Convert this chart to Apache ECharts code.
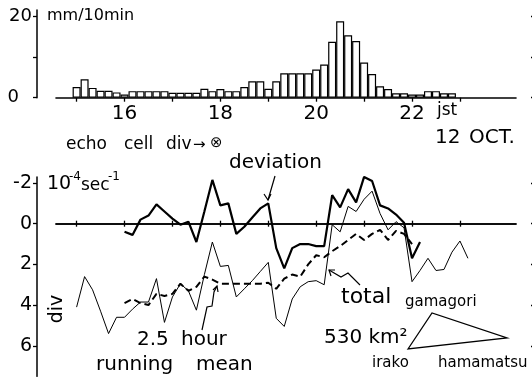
<!DOCTYPE html>
<html><head><meta charset="utf-8">
<script src="https://cdn.jsdelivr.net/npm/echarts@6/dist/echarts.min.js"></script>
<style>html,body{margin:0;padding:0;background:#fff}#c{width:532px;height:377px}</style>
</head><body><div id="c"></div>
<script>
// 10-minute time steps (JST, 12 Oct.)
const times = ["15:00","15:10","15:20","15:30","15:40","15:50","16:00","16:10","16:20","16:30","16:40","16:50",
"17:00","17:10","17:20","17:30","17:40","17:50","18:00","18:10","18:20","18:30","18:40","18:50",
"19:00","19:10","19:20","19:30","19:40","19:50","20:00","20:10","20:20","20:30","20:40","20:50",
"21:00","21:10","21:20","21:30","21:40","21:50","22:00","22:10","22:20","22:30","22:40","22:50","23:00","23:10"];
// rainfall mm/10min
const rainfall = [2.6,4.5,2.4,1.7,1.7,1.3,0.8,1.6,1.6,1.6,1.6,1.6,
1.2,1.2,1.2,1.2,2.2,1.6,2.1,1.6,1.6,2.6,4.0,4.0,
2.2,4.0,6.0,6.0,6.0,6.0,6.9,8.1,13.7,18.7,15.3,13.9,
8.6,5.8,2.8,2.1,1.1,1.1,0.8,0.8,1.6,1.6,1.1,1.1];
// echo cell divergence, 10^-4 sec^-1 (axis inverted)
const totalDiv = [4.1,2.6,3.25,4.3,5.4,4.6,4.6,4.2,3.85,3.85,2.7,4.85,
3.6,2.95,3.3,4.25,2.5,0.9,2.1,2.05,3.6,3.2,2.8,2.35,
1.9,4.65,5.05,3.7,3.1,2.85,2.8,3.0,0.05,0.4,-0.85,-0.6,
-1.2,-1.6,-0.5,0.3,-0.1,0.2,2.85,2.3,1.7,2.3,2.25,1.4,0.85,1.7];
const deviation = [null,null,null,null,null,null,0.4,0.55,-0.2,-0.4,-0.95,-0.6,
-0.25,0.05,-0.1,0.9,-0.6,-2.15,-0.9,-1.0,0.5,0.15,-0.3,-0.75,
-1.0,1.2,2.2,1.2,1.0,1.0,1.1,1.1,-1.4,-0.8,-1.7,-1.05,
-2.3,-2.1,-0.9,-0.75,-0.45,-0.05,1.7,0.9,null,null,null,null,null,null];
const runningMean = [null,null,null,null,null,null,3.9,3.7,3.9,4.0,3.45,3.55,
3.45,2.95,3.3,3.1,2.6,2.75,2.95,2.95,2.95,2.95,2.95,2.95,
2.9,3.2,2.7,2.5,2.6,2.0,1.55,1.65,1.35,1.1,0.8,0.5,
0.8,0.5,0.3,0.8,0.35,0.5,1.0,null,null,null,null,null,null,null];
const hourTicks = [15,16,17,18,19,20,21,22,23];
const hourLabels = [16,18,20,22];
const rainTicks = [0,10,20];
const rainLabels = [0,20];
const divTicks = [-2,0,2,4,6];

const toH = s => { const p = s.split(':'); return +p[0] + (+p[1]) / 60; };
const pairs = arr => arr.map((v, i) => [toH(times[i]), v]);

const FONT = '"DejaVu Sans", sans-serif';
const K = '#000';
const X_MIN = 14.57, X_MAX = 24.17;

function txt(text, x, y, size, extra) {
  return Object.assign({ type: 'text', z: 100, style: { text, x, y, fill: K,
    font: size + 'px ' + FONT, textVerticalAlign: 'middle', textAlign: 'left' } }, extra || {});
}
function pl(points, w) {
  return { type: 'polyline', z: 100, shape: { points }, style: { stroke: K, lineWidth: w || 1.2, fill: null } };
}

const chart = echarts.init(document.getElementById('c'), null, { renderer: 'canvas' });
const baseX = {
  type: 'value', min: X_MIN, max: X_MAX, splitLine: { show: false },
  axisLine: { show: true, lineStyle: { color: K, width: 1.5 } }
};
const option = {
  animation: false,
  backgroundColor: '#fff',
  grid: [
    { left: 56, right: 16, top: 9.9, height: 87.8 },
    { left: 56, right: 16, top: 176.9, height: 199.4 }
  ],
  xAxis: [
    Object.assign({}, baseX, { gridIndex: 0,
      axisLine: { show: true, onZero: false, lineStyle: { color: K, width: 1.6 } },
      axisTick: { show: true, length: 4, customValues: hourTicks, lineStyle: { color: K, width: 1.3 } },
      axisLabel: { show: true, customValues: hourLabels, color: K, fontSize: 20, fontFamily: FONT, margin: 6 } }),
    Object.assign({}, baseX, { gridIndex: 1, position: 'bottom',
      axisLine: { show: true, onZero: true, lineStyle: { color: K, width: 1.5 } },
      axisTick: { show: true, length: 3, customValues: hourTicks, lineStyle: { color: K, width: 1.3 } },
      axisLabel: { show: false } }),
    Object.assign({}, baseX, { gridIndex: 1, position: 'top',
      axisLine: { show: true, onZero: true, lineStyle: { color: K, width: 1.5 } },
      axisTick: { show: true, length: 3, customValues: hourTicks, lineStyle: { color: K, width: 1.3 } },
      axisLabel: { show: false } })
  ],
  yAxis: [
    { type: 'value', gridIndex: 0, min: 0, max: 21.5, offset: 19, splitLine: { show: false },
      axisLine: { show: true, onZero: false, lineStyle: { color: K, width: 1.5 } },
      axisTick: { show: true, length: 4, customValues: rainTicks, lineStyle: { color: K, width: 1.3 } },
      axisLabel: { show: true, customValues: rainLabels, color: K, fontSize: 18, fontFamily: FONT, margin: 5,
        formatter: v => v === 0 ? '{z|0}' : String(v),
        rich: { z: { fontSize: 18, fontFamily: FONT, color: K, padding: [0, 13, 0, 0] } } } },
    { type: 'value', gridIndex: 0, min: 0, max: 21.5, offset: 19, splitLine: { show: false },
      axisLine: { show: false, onZero: false },
      axisTick: { show: true, inside: true, length: 4, customValues: rainTicks, lineStyle: { color: K, width: 1.3 } },
      axisLabel: { show: false } },
    { type: 'value', gridIndex: 1, min: -2.3, max: 7.5, inverse: true, offset: 19, splitLine: { show: false },
      axisLine: { show: true, onZero: false, lineStyle: { color: K, width: 1.5 } },
      axisTick: { show: true, length: 4, customValues: divTicks, lineStyle: { color: K, width: 1.3 } },
      axisLabel: { show: true, customValues: divTicks, color: K, fontSize: 19, fontFamily: FONT, margin: 5 } },
    { type: 'value', gridIndex: 1, min: -2.3, max: 7.5, inverse: true, offset: 19, splitLine: { show: false },
      axisLine: { show: false, onZero: false },
      axisTick: { show: true, inside: true, length: 4, customValues: divTicks, lineStyle: { color: K, width: 1.3 } },
      axisLabel: { show: false } }
  ],
  series: [
    { type: 'bar', xAxisIndex: 0, yAxisIndex: 0, data: pairs(rainfall), barWidth: 8,
      itemStyle: { color: '#fff', borderColor: K, borderWidth: 1.2 } },
    { type: 'line', xAxisIndex: 1, yAxisIndex: 2, data: pairs(totalDiv), showSymbol: false,
      lineStyle: { color: K, width: 1 } },
    { type: 'line', xAxisIndex: 1, yAxisIndex: 2, data: pairs(runningMean), showSymbol: false,
      lineStyle: { color: K, width: 2, type: [7, 4] } },
    { type: 'line', xAxisIndex: 1, yAxisIndex: 2, data: pairs(deviation), showSymbol: false,
      lineStyle: { color: K, width: 2.2 } }
  ],
  graphic: [
    txt('mm/10min', 47, 16, 16),
    txt('jst', 437, 111, 17),
    txt('echo', 66, 145, 17),
    txt('cell', 124, 145, 17),
    txt('div', 166, 145, 17),
    txt('\u2192', 193, 145, 15),
    txt('\u2297', 210, 143, 15),
    txt('12', 435, 138, 20),
    txt('OCT.', 469, 138, 20),
    txt('deviation', 229, 163, 20),
    txt('10', 47, 184, 19),
    txt('-4', 69, 177, 12),
    txt('sec', 81, 186, 17),
    txt('-1', 108, 177, 12),
    { type: 'text', z: 100, x: 57, y: 309, rotation: Math.PI / 2,
      style: { text: 'div', x: 0, y: 0, fill: K, font: '19px ' + FONT, textAlign: 'center', textVerticalAlign: 'middle' } },
    txt('2.5', 137, 340, 20),
    txt('hour', 181, 340, 20),
    txt('running', 96, 365, 20),
    txt('mean', 196, 365, 20),
    txt('total', 341, 297, 22),
    txt('gamagori', 405, 302, 15),
    txt('530 km\u00B2', 324, 338, 20),
    txt('irako', 372, 363, 15),
    txt('hamamatsu', 438, 363, 15),
    { type: 'polygon', z: 100, shape: { points: [[408, 349], [432, 313], [507, 338]] },
      style: { stroke: K, lineWidth: 1.3, fill: null } },
    pl([[275, 176], [268, 200]]),
    pl([[264, 194], [268, 200], [271, 194]]),
    pl([[202, 330], [207, 307], [212, 306], [214, 292], [217, 286]]),
    pl([[213, 290], [217, 286], [218, 292]]),
    pl([[360, 285], [348, 273], [341, 277], [329, 270]]),
    pl([[331, 276], [329, 270], [335, 270]])
  ]
};
chart.setOption(option);
</script></body></html>
